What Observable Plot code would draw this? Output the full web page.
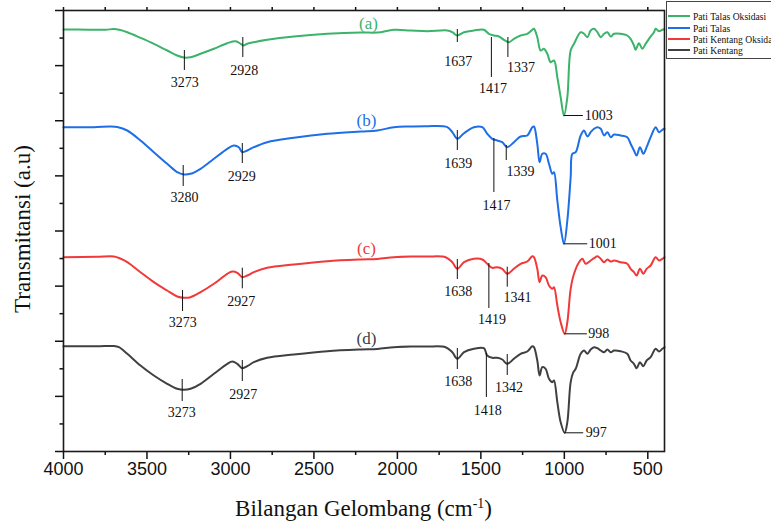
<!DOCTYPE html>
<html>
<head>
<meta charset="utf-8">
<script src="https://cdn.jsdelivr.net/npm/d3@7"></script>
<script src="https://cdn.jsdelivr.net/npm/@observablehq/plot@0.6"></script>
<style>
  html, body { margin: 0; padding: 0; background: white; overflow: hidden; }
  #wrap { position: relative; width: 771px; height: 524px; }
  .xtitle { position: absolute; left: 63px; width: 601px; top: 497px; text-align: center;
    font-family: "Liberation Serif", "Times New Roman", serif; font-size: 23px; line-height: 1; color: #111; }
  .xtitle sup { font-size: 0.6em; vertical-align: 0.55em; line-height: 0; }
  .ytitle { position: absolute; left: 22px; top: 229px; transform: translate(-50%, -50%) rotate(-90deg);
    white-space: nowrap; font-family: "Liberation Serif", "Times New Roman", serif; font-size: 23px; line-height: 1; color: #111; }
  .legend { position: absolute; left: 666px; top: 1px; width: 130px; height: 56px; border: 1px solid #444; background: white; }
  .legend .row { position: absolute; left: 0; height: 12px; display: flex; align-items: center;
    font-family: "Liberation Serif", "Times New Roman", serif; font-size: 9.6px; white-space: nowrap; color: #111; }
  .legend .sw { width: 22px; height: 2.5px; margin-left: 1px; margin-right: 3px; }
</style>
</head>
<body>
<div id="wrap"></div>
<script>
// ---- data (wavenumber cm^-1, transmittance a.u., stacked) ----
const seriesNames = ["Pati Talas Oksidasi", "Pati Talas", "Pati Kentang Oksidasi", "Pati Kentang"];
const seriesTags = ["(a)", "(b)", "(c)", "(d)"];
const seriesColors = ["#3cb36a", "#1e6fe6", "#f03a3a", "#404040"];
const xTickLabels = [4000, 3500, 3000, 2500, 2000, 1500, 1000, 500];
const xMinorTicks = [3750, 3250, 2750, 2250, 1750, 1250, 750];

const spectrumA = [[4000,42.2],[3850,42.18],[3748,42.17],[3700,42.25],[3660,42.15],[3618,41.93],[3539,41.37],[3459,40.77],[3379,40.1],[3319,39.6],[3279,39.4],[3239,39.43],[3179,39.77],[3099,40.27],[3019,40.83],[2969,41.03],[2939,40.77],[2923,40.6],[2899,40.77],[2860,40.93],[2780,41.17],[2620,41.5],[2420,41.77],[2220,41.9],[2120,41.9],[2021,42.17],[1921,42.1],[1821,42.03],[1701,42.1],[1671,41.93],[1641,41.6],[1601,41.93],[1542,42.1],[1482,42.17],[1452,41.77],[1422,41.6],[1392,41.5],[1362,41.17],[1332,40.93],[1302,41.27],[1262,41.6],[1222,41.77],[1192,42.17],[1182,42.27],[1162,41.43],[1142,40.1],[1122,40.27],[1102,39.77],[1082,38.93],[1062,39.1],[1042,37.43],[1022,35.43],[1002,33.6],[982,35.43],[962,40.1],[942,40.77],[902,41.93],[882,41.77],[862,41.43],[842,42.1],[822,42.27],[802,41.93],[782,41.43],[762,41.77],[742,41.93],[722,41.5],[702,41.77],[663,41.77],[623,41.6],[603,41.27],[583,40.6],[573,40.17],[553,40.83],[533,40.27],[513,40.77],[493,41.27],[463,41.93],[453,42.27],[433,42.03],[413,42.17],[400,42.23]];
const spectrumB = [[4000,32.43],[3818,32.43],[3720,32.5],[3678,32.45],[3618,32.1],[3539,31.1],[3459,29.93],[3379,28.77],[3319,27.93],[3279,27.7],[3239,27.77],[3179,28.27],[3099,29.27],[3019,30.27],[2980,30.6],[2950,30.43],[2929,29.93],[2899,30.1],[2860,30.43],[2780,30.93],[2620,31.37],[2420,31.77],[2220,32.0],[2120,32.1],[2021,32.43],[1921,32.5],[1821,32.53],[1701,32.43],[1671,31.93],[1641,31.27],[1601,31.83],[1542,32.43],[1491,32.43],[1462,31.77],[1432,31.27],[1402,31.1],[1372,30.93],[1342,30.43],[1302,30.93],[1262,31.5],[1222,31.6],[1192,32.43],[1182,32.5],[1162,30.77],[1148,28.93],[1132,29.77],[1112,29.77],[1092,28.77],[1072,27.77],[1062,27.93],[1042,25.1],[1022,22.43],[1002,20.77],[982,23.1],[962,27.43],[952,29.77],[932,29.93],[902,31.6],[882,32.1],[862,31.5],[842,31.93],[822,32.27],[802,32.43],[782,32.27],[762,31.6],[742,31.93],[722,31.43],[702,31.7],[663,31.6],[623,31.43],[603,30.77],[583,30.1],[567,29.6],[547,30.43],[527,29.77],[507,30.43],[483,31.43],[453,32.43],[433,31.93],[413,32.17],[400,32.27]];
const spectrumC = [[4000,19.43],[3800,19.47],[3698,19.5],[3660,19.3],[3618,18.93],[3539,17.93],[3459,16.93],[3379,16.1],[3319,15.5],[3279,15.37],[3239,15.43],[3179,15.93],[3099,16.77],[3019,17.77],[2989,18.0],[2959,17.87],[2929,17.43],[2899,17.6],[2860,17.93],[2780,18.37],[2620,18.7],[2420,19.03],[2220,19.2],[2120,19.25],[2021,19.43],[1921,19.5],[1821,19.5],[1711,19.43],[1671,18.93],[1641,18.27],[1601,18.93],[1542,19.27],[1491,19.2],[1462,18.77],[1432,18.37],[1402,18.43],[1372,18.27],[1342,17.77],[1302,18.27],[1262,18.77],[1222,19.0],[1192,19.53],[1182,19.43],[1162,18.27],[1148,16.93],[1132,17.6],[1112,17.43],[1092,16.6],[1072,16.27],[1062,16.43],[1042,14.6],[1022,12.93],[998,11.77],[982,12.93],[962,16.27],[942,17.77],[912,18.93],[892,19.27],[872,18.77],[842,19.1],[822,19.33],[802,19.53],[782,19.27],[762,18.93],[742,19.2],[722,19.0],[702,19.1],[663,18.93],[623,18.77],[603,18.27],[583,17.93],[567,17.6],[547,18.27],[527,17.77],[507,18.27],[483,18.6],[453,19.43],[433,19.1],[413,19.27],[400,19.43]];
const spectrumD = [[4000,10.53],[3800,10.52],[3698,10.55],[3668,10.43],[3618,9.77],[3539,8.6],[3459,7.6],[3379,6.77],[3319,6.27],[3279,6.17],[3239,6.27],[3179,6.77],[3099,7.77],[3019,8.77],[2989,9.0],[2959,8.77],[2929,8.33],[2899,8.53],[2860,8.93],[2780,9.37],[2620,9.7],[2420,10.03],[2220,10.2],[2120,10.25],[2021,10.43],[1921,10.5],[1821,10.5],[1711,10.43],[1671,9.93],[1641,9.27],[1601,9.93],[1542,10.27],[1482,10.33],[1462,9.6],[1432,9.37],[1402,9.37],[1372,9.2],[1342,8.77],[1302,9.27],[1262,9.77],[1222,10.0],[1192,10.53],[1182,10.43],[1162,9.1],[1148,7.6],[1132,8.43],[1112,8.27],[1092,7.27],[1072,6.93],[1062,7.1],[1042,4.93],[1022,2.93],[998,1.87],[982,2.93],[962,6.93],[946,7.93],[932,8.27],[902,9.77],[882,10.1],[862,9.77],[842,10.2],[822,10.43],[802,10.33],[782,10.1],[762,9.93],[742,10.2],[722,9.93],[702,10.1],[663,10.03],[623,9.77],[603,9.1],[583,8.77],[567,8.33],[547,8.93],[527,8.53],[507,9.1],[483,9.43],[453,10.27],[433,10.0],[413,10.27],[400,10.43]];

// peak annotations: label, band position, band-marker top/bottom, label position
const peaksA = [["3273",3276,40.1,38.1,3274,36.9],["2928",2926,41.4,39.4,2917,38.1],["1637",1641,42.2,40.9,1636,39.0],["1417",1437,41.4,37.4,1428,36.3],["1337",1338,41.4,39.4,1260,38.4]];
const peaksB = [["3280",3283,28.6,26.5,3275,25.4],["2929",2929,30.8,28.8,2932,27.5],["1639",1641,32.1,30.1,1636,28.8],["1417",1422,31.3,25.9,1407,24.6],["1339",1348,30.6,29.1,1262,28.0]];
const peaksC = [["3273",3287,16.1,14.0,3286,12.87],["2927",2929,18.33,16.27,2935,15.0],["1638",1641,19.2,17.2,1635,16.0],["1419",1452,18.8,14.3,1434,13.2],["1341",1342,18.43,16.43,1280,15.37]];
const peaksD = [["3273",3289,7.2,5.0,3292,3.87],["2927",2929,9.1,7.0,2923,5.67],["1638",1641,10.3,8.2,1636,7.0],["1418",1467,9.8,5.4,1458,4.1],["1342",1342,9.7,7.6,1331,6.4]];
// strongest band: label, minimum position, value, leader end, label start
const minBands = [["1003",1002,33.6,886,878],["1001",1002,20.77,860,854],["998",998,11.77,862,856],["997",998,1.87,884,872]];
// series tag positions
const tagPos = [[2173,42.8],[2185,33.1],[2185,20.3],[2185,11.3]];

const spectra = [spectrumA, spectrumB, spectrumC, spectrumD];
const peaks = [peaksA, peaksB, peaksC, peaksD];

const yMax = 44.1;
const yTicksAll = d3.range(0, 17).map(i => i * yMax / 16);
const yMajor = yTicksAll.filter((d, i) => i % 2 === 0);
const yMinor = yTicksAll.filter((d, i) => i % 2 === 1);
const topTicks = d3.range(4000, 499, -250);

const serif = "Liberation Serif";
const marks = [];

spectra.forEach((s, i) => {
  marks.push(Plot.line(s, {x: d => d[0], y: d => d[1], stroke: seriesColors[i], strokeWidth: 2, curve: "catmull-rom"}));
});
peaks.forEach((p) => {
  marks.push(Plot.ruleX(p, {x: d => d[1], y1: d => d[2], y2: d => d[3], stroke: "#111", strokeWidth: 1}));
  marks.push(Plot.text(p, {x: d => d[4], y: d => d[5], text: d => d[0], fontFamily: serif, fontSize: 14, fill: "#111", textAnchor: "middle", lineAnchor: "middle"}));
});
marks.push(Plot.ruleY(minBands, {y: d => d[2], x1: d => d[1], x2: d => d[3], stroke: "#111", strokeWidth: 1}));
marks.push(Plot.text(minBands, {x: d => d[4], y: d => d[2], text: d => d[0], fontFamily: serif, fontSize: 14, fill: "#111", textAnchor: "start", lineAnchor: "middle"}));
marks.push(Plot.text(tagPos, {x: d => d[0], y: d => d[1], text: (d, i) => seriesTags[i], fill: (d, i) => seriesColors[i], fontFamily: serif, fontSize: 17, textAnchor: "middle", lineAnchor: "middle"}));

const chart = Plot.plot({
  width: 771,
  height: 524,
  marginTop: 10,
  marginBottom: 73,
  marginLeft: 63,
  marginRight: 107,
  x: {domain: [4000, 400]},
  y: {domain: [0, yMax]},
  color: {type: "identity"},
  style: {fontFamily: "Liberation Sans", fontSize: "18px", background: "white", color: "#111"},
  marks: [
    ...marks,
    Plot.axisX({anchor: "bottom", ticks: xTickLabels, tickSize: 8, tickPadding: 3, strokeWidth: 1.5, tickFormat: d3.format("d"), label: null}),
    Plot.axisX({anchor: "bottom", ticks: xMinorTicks, tickSize: 4, strokeWidth: 1.5, tickFormat: () => "", label: null}),
    Plot.axisX({anchor: "top", ticks: topTicks, tickSize: 4, strokeWidth: 1.5, tickFormat: () => "", label: null}),
    Plot.axisY({ticks: yMajor, tickSize: 8, strokeWidth: 1.5, tickFormat: () => "", label: null}),
    Plot.axisY({ticks: yMinor, tickSize: 3.5, strokeWidth: 1.5, tickFormat: () => "", label: null}),
    Plot.frame({stroke: "#1a1a1a", strokeWidth: 1.6})
  ]
});

const wrap = document.getElementById("wrap");
wrap.appendChild(chart);

const xt = document.createElement("div");
xt.className = "xtitle";
xt.innerHTML = "Bilangan Gelombang (cm<sup>-1</sup>)";
wrap.appendChild(xt);

const yt = document.createElement("div");
yt.className = "ytitle";
yt.textContent = "Transmitansi (a.u)";
wrap.appendChild(yt);

const lg = document.createElement("div");
lg.className = "legend";
const rowTops = [8, 20, 31, 42];
seriesNames.forEach((n, i) => {
  const r = document.createElement("div");
  r.className = "row";
  r.style.top = rowTops[i] + "px";
  const sw = document.createElement("span");
  sw.className = "sw";
  sw.style.background = seriesColors[i];
  const t = document.createElement("span");
  t.textContent = n;
  r.appendChild(sw);
  r.appendChild(t);
  lg.appendChild(r);
});
wrap.appendChild(lg);
</script>
</body>
</html>
